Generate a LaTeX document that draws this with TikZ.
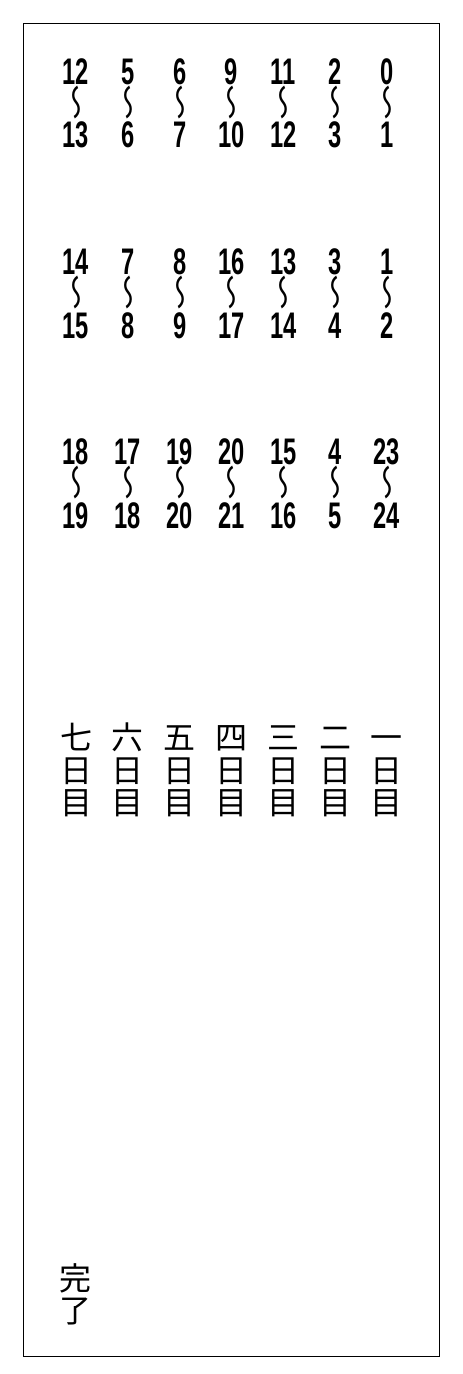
\documentclass[tikz,border=0pt]{standalone}
\usepackage{fontspec}
\usepackage{graphicx}
\setmainfont{Liberation Sans}
\newfontfamily\cjk{Noto Sans CJK JP}
\usetikzlibrary{positioning}
\newcommand{\slim}[1]{\scalebox{0.64}[1]{#1}}
\newcommand{\wave}{\raisebox{-.5em}[13pt][13pt]{\scalebox{0.8}[1]{\reflectbox{\rotatebox{90}{〜}}}}}
\tikzset{
  numlabel/.style={inner sep=0pt, font=\bfseries\fontsize{37}{37}\selectfont},
  wavelabel/.style={inner sep=0pt, xshift=-3pt, font=\cjk\fontsize{36}{36}\selectfont},
  daylabel/.style={inner sep=0pt, text height=28.2pt, text depth=3.8pt,
    font=\cjk\fontsize{32}{32}\selectfont},
}

\begin{document}
\begin{tikzpicture}[x=1pt,y=-1pt]
    \useasboundingbox (0,0) rectangle (463,1374);
    \draw[line width=1pt] (23,23) rectangle (439,1356);
    % first block
    \foreach \i/\a/\b in {0/12/13, 1/5/6, 2/6/7, 3/9/10, 4/11/12, 5/2/3, 6/0/1} {
        \node[numlabel] (ta\i) at (76+51.8*\i, 71.5) {\slim{\a}};
        \node[wavelabel] (wa\i) at (76+51.8*\i, 102) {\wave};
        \node[numlabel] (ba\i) at (76+51.8*\i, 134.5) {\slim{\b}};
    }
    % second block
    \foreach \i/\a/\b in {0/14/15, 1/7/8, 2/8/9, 3/16/17, 4/13/14, 5/3/4, 6/1/2} {
        \node[numlabel] (tb\i) at (76+51.8*\i, 262) {\slim{\a}};
        \node[wavelabel] (wb\i) at (76+51.8*\i, 292.5) {\wave};
        \node[numlabel] (bb\i) at (76+51.8*\i, 325.5) {\slim{\b}};
    }
    % third block
    \foreach \i/\a/\b in {0/18/19, 1/17/18, 2/19/20, 3/20/21, 4/15/16, 5/4/5, 6/23/24} {
        \node[numlabel] (tc\i) at (76+51.8*\i, 452) {\slim{\a}};
        \node[wavelabel] (wc\i) at (76+51.8*\i, 482) {\wave};
        \node[numlabel] (bc\i) at (76+51.8*\i, 516) {\slim{\b}};
    }
    % days
    \foreach \i/\k in {0/七, 1/六, 2/五, 3/四, 4/三, 5/二, 6/一} {
        \node[daylabel] (dn\i) at (76+51.8*\i, 737.5) {\k};
        \node[daylabel, below=0pt of dn\i] (dh\i) {日};
        \node[daylabel, below=0pt of dh\i] (dm\i) {目};
    }
    \node[daylabel] (done) at (75, 1278) {完};
    \node[daylabel, below=0pt of done] (doneb) {了};
\end{tikzpicture}
\end{document}
